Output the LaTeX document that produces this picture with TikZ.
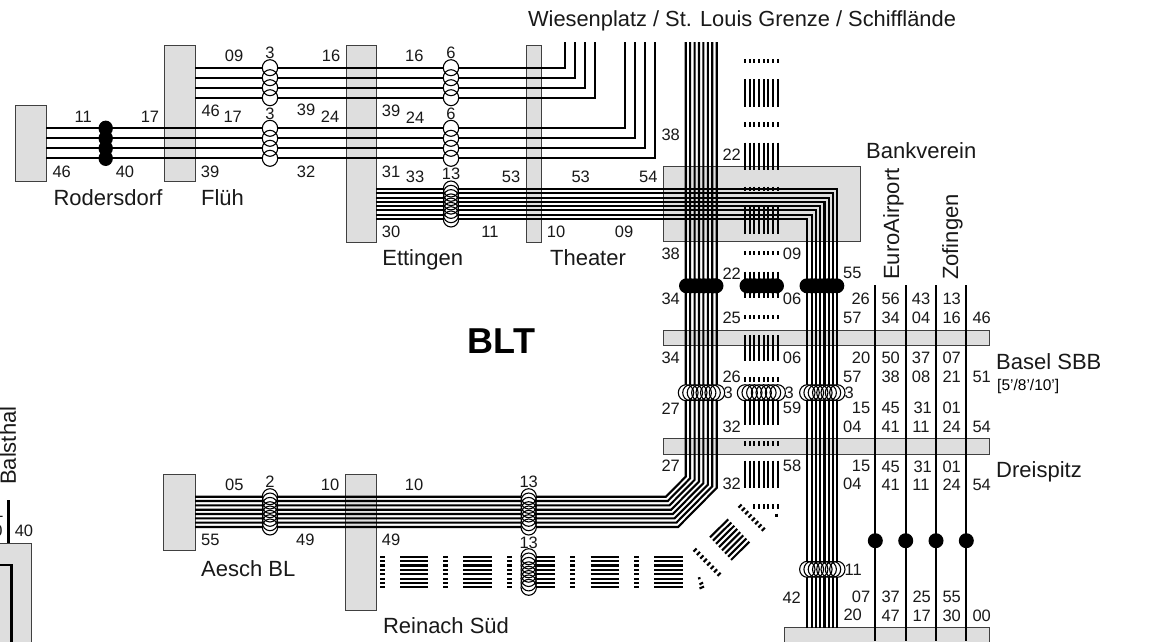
\documentclass[tikz,border=0pt]{standalone}
\usepackage{fontspec}
\setmainfont{Liberation Sans}
\definecolor{stationgray}{HTML}{DEDEDE}
\definecolor{stationedge}{HTML}{404040}
\begin{document}
\begin{tikzpicture}[x=1pt,y=-1pt,
  station/.style={draw=stationedge,fill=stationgray,line width=1pt,inner sep=0pt,outer sep=0pt,rectangle},
  trk/.style={line width=2.1pt,black},
  num/.style={inner sep=0pt,font=\fontsize{16.5}{16.5}\selectfont,text=black!90},
  stname/.style={inner sep=0pt,font=\fontsize{22}{23}\selectfont,text=black!90},
  ring/.style={line width=1.1pt,black},
  halo/.style={fill=white,draw=none},
  bead/.style={fill=black,draw=none}]
\useasboundingbox (0,0) rectangle (1161,641);
\fill[white] (0,0) rectangle (1161,641);
% stations
\node[station,minimum width=30.5pt,minimum height=75.5pt] (rodersdorf) at (30.75,143.25) {};
\node[station,minimum width=30.5pt,minimum height=136pt] (flueh) at (179.75,113) {};
\node[station,minimum width=30pt,minimum height=197pt] (ettingen) at (361,143.5) {};
\node[station,minimum width=14.6pt,minimum height=197pt] (theater) at (534,143.5) {};
\node[station,minimum width=197pt,minimum height=75.7pt] (bankverein) at (761.5,204) {};
\node[station,minimum width=326pt,minimum height=15pt] (sbb) at (826,337.5) {};
\node[station,minimum width=326pt,minimum height=15.7pt] (dreispitz) at (826,446.2) {};
\node[station,minimum width=32pt,minimum height=76pt] (aesch) at (179,512) {};
\node[station,minimum width=31pt,minimum height=136pt] (reinach) at (360.5,542) {};
\node[station,minimum width=205pt,minimum height=30pt] (terminal) at (886.5,642.7) {};
\node[station,minimum width=52pt,minimum height=120pt] (balsthalst) at (5.7,603) {};
% line 1: Flueh to Wiesenplatz
\foreach \y/\x in {67.7/565,77.7/575,87.7/585,97.7/595}
  \draw[trk] (flueh.east |- 0,\y) -- (\x,\y) -- (\x,42);
% line 2: Rodersdorf to Wiesenplatz
\foreach \y/\x in {128.3/625,138.3/635,148.3/645,158.3/655}
  \draw[trk] (rodersdorf.east |- 0,\y) -- (\x,\y) -- (\x,42);
% bundle: Ettingen - Bankverein - terminal
\foreach \i in {0,...,7}{
  \pgfmathsetmacro{\yy}{189+4.286*\i}
  \pgfmathsetmacro{\xx}{837.3-4.286*\i}
  \draw[trk] (ettingen.east |- 0,\yy) -- (\xx,\yy) -- (\xx,627.7);
}
% bundle: Wiesenplatz - Aesch
\foreach \i in {0,...,7}{
  \pgfmathsetmacro{\xx}{685.7+4.43*\i}
  \pgfmathsetmacro{\ya}{476.7+1.6*\i}
  \pgfmathsetmacro{\xb}{666+1.72*\i}
  \pgfmathsetmacro{\yb}{496.7+4.33*\i}
  \draw[trk] (\xx,42) -- (\xx,\ya) -- (\xb,\yb) -- (aesch.east |- 0,\yb);
}
% centre dashed bundle, vertical part
\foreach \a/\b in {59/63.3,79.3/106.7,122.3/126.7,142.7/170,186.7/191,206.7/234,251/255,271.7/298.3,315/319,335/360.7,377.3/381.7,398/425,441/445.7,460.7/487.7}{
  \foreach \i in {0,...,7}{
    \pgfmathsetmacro{\xx}{745+4.67*\i}
    \draw[trk] (\xx,\a) -- (\xx,\b);
  }
}
% centre bundle, the bend
\foreach \i in {2,...,7}{
  \pgfmathsetmacro{\xx}{745+4.67*\i}
  \draw[trk] (\xx,504) -- (\xx,508.5);
}
\draw[trk] (776.5,513.5) -- (776.5,516.5);
\foreach \i in {0,...,7}{
  \pgfmathsetmacro{\cx}{740+3.33*\i}
  \pgfmathsetmacro{\cy}{506+3.33*\i}
  \draw[trk] ({\cx-1.6},{\cy+1.6}) -- ({\cx+1.6},{\cy-1.6});
  \pgfmathsetmacro{\ax}{710+3*\i}
  \pgfmathsetmacro{\ay}{537.3+3.24*\i}
  \pgfmathsetmacro{\bx}{728.3+3*\i}
  \pgfmathsetmacro{\by}{519.3+3.2*\i}
  \draw[trk] (\ax,\ay) -- (\bx,\by);
  \pgfmathsetmacro{\dx}{695+3.43*\i}
  \pgfmathsetmacro{\dy}{550+3.47*\i}
  \draw[trk] ({\dx-1.6},{\dy+1.6}) -- ({\dx+1.6},{\dy-1.6});
}
\draw[trk] (698,578.5) -- (700.5,578);
\draw[trk] (699.5,584.5) -- (703,582.5);
\draw[trk] (699.5,588.5) -- (704,586.5);
% centre bundle, horizontal part
\foreach \a/\b in {380/385,400/428,443/448,463/492,507/512,523/555,570/575,590.7/619,634/638.7,654/682.7}{
  \foreach \j in {0,...,7}{
    \pgfmathsetmacro{\yy}{556.7+4.37*\j}
    \draw[trk] (\a,\yy) -- (\b,\yy);
  }
}
% four single lines on the right
\foreach \x [count=\n] in {875.3,905.7,936,966.3}{
  \coordinate (top\n) at (\x,285);
  \coordinate (bot\n) at (\x,641);
  \draw[trk] (top\n) -- (bot\n);
  \fill[bead] (\x,540.7) circle (7.5pt);
}
% Balsthal corner
\draw[trk] (8.5,500) -- (8.5,543);
\draw[trk] (-2,565) -- (11.5,565) -- (11.5,643);
% black beads
\foreach \y in {128.3,138.3,148.3,158.3}
  \fill[bead] (105.7,\y) ellipse [x radius=7.2pt,y radius=7.7pt];
\foreach \x in {686.5,691,695.5,700,704.5,709,713.5,716}
  \fill[bead] (\x,285.8) circle (7.5pt);
\foreach \x in {747,751,755,760,764,768,772,776.5}
  \fill[bead] (\x,285.8) circle (7.5pt);
\foreach \x in {807,811,815,820,824,828,832,836.8}
  \fill[bead] (\x,285.8) circle (7.5pt);
% open rings
\newcommand{\ringrow}[2]{%
  \foreach \p in {#2}{\fill[halo] (#1,\p) ellipse [x radius=7.7pt,y radius=8pt];}
  \foreach \p in {#2}{\draw[ring] (#1,\p) ellipse [x radius=7.7pt,y radius=8pt];}}
\newcommand{\ringcol}[2]{%
  \foreach \p in {#1}{\fill[halo] (\p,#2) ellipse [x radius=7.7pt,y radius=8pt];}
  \foreach \p in {#1}{\draw[ring] (\p,#2) ellipse [x radius=7.7pt,y radius=8pt];}}
\ringrow{270}{67.7,77.7,87.7,97.7}
\ringrow{270}{128.3,138.3,148.3,158.3}
\ringrow{451}{67.7,77.7,87.7,97.7}
\ringrow{451}{128.3,138.3,148.3,158.3}
\ringrow{451}{189,193.3,197.6,201.9,206.1,210.4,214.7,219}
\ringrow{270}{496.7,501,505.4,509.7,514,518.3,522.7,527}
\ringrow{528.7}{496.7,501,505.4,509.7,514,518.3,522.7,527}
\ringrow{528.7}{556.7,561,565.4,569.8,574.2,578.5,582.9,587.3}
\ringcol{686,690.4,694.9,699.3,703.7,708.2,712.6,717}{392.7}
\ringcol{745,749.7,754.3,759,763.7,768.4,773,777.7}{392.7}
\ringcol{807.3,811.6,815.9,820.2,824.4,828.7,833,837.3}{392.7}
\ringcol{807.3,811.6,815.9,820.2,824.4,828.7,833,837.3}{569.3}
% numbers
\foreach \x/\y/\t [count=\k] in {
 83.3/116.7/11,150/116.7/17,61.7/171.7/46,125/171.7/40,
 234/56/09,270/53/3,331/56/16,210.7/111/46,232.7/117.3/17,270/114/3,306/110/39,330/117/24,210/171.7/39,306/171.7/32,
 414.3/55.7/16,451/53/6,391/110.7/39,415/117.3/24,451/114/6,391/171.7/31,415/176.7/33,451/174.3/13,511/176.7/53,580.7/176.7/53,648.3/176.7/54,670.7/135/38,
 391/231.7/30,490/231.7/11,556/231.7/10,624/231.7/09,670.7/254/38,
 731.7/154.3/22,792/254/09,731.7/273.3/22,852.3/273.3/55,670.7/299.3/34,792/299.3/06,860.7/299.3/26,731.7/317.7/25,852.3/317.7/57,
 670.7/358.3/34,792/358.3/06,861/358.3/20,731.7/377.3/26,852.3/377.3/57,728.3/392.7/3,789.3/392.7/3,849.3/392.7/3,
 670.7/408.3/27,792/408.3/59,861/408.3/15,731.7/426.7/32,852.3/426.7/04,
 670.7/466/27,792/466/58,861/466/15,731.7/484.3/32,852.3/484.3/04,853.3/570/11,791.7/597.3/42,861/597.3/07,852.7/615.3/20,
 890.7/299.3/56,921/299.3/43,951.7/299.3/13,890.7/318/34,921/318/04,951.7/318/16,981.7/318/46,
 890.7/358.3/50,921/358.3/37,951.7/358.3/07,890.7/376.7/38,921/376.7/08,951.7/376.7/21,981.7/376.7/51,
 890.7/408.3/45,922.7/408.3/31,951.7/408.3/01,890.7/426.7/41,921/426.7/11,951.7/426.7/24,981.7/426.7/54,
 890.7/466.7/45,922.7/466.7/31,951.7/466.7/01,890.7/485/41,921/485/11,951.7/485/24,981.7/485/54,
 890.7/597.3/37,921.7/597.3/25,951.7/597.3/55,890.7/616/47,921.7/616/17,951.7/616/30,981.7/616/00,
 234.3/485/05,270/481.7/2,330/485/10,210.3/540/55,305.3/540/49,414/485/10,528.7/482.3/13,391/540/49,528.7/542.7/13,
 24/531/40,-1/512/1,-2/531/0}
  \node[num] (num\k) at (\x,\y) {\t};
% names
\node[stname,anchor=base] (lblrodersdorf) at (108,205.3) {Rodersdorf};
\node[stname,anchor=base] (lblflueh) at (222.5,205.3) {Flüh};
\node[stname,anchor=base] (lblettingen) at (422.7,265.2) {Ettingen};
\node[stname,anchor=base] (lbltheater) at (588,265.2) {Theater};
\node[stname,anchor=base west] (lblbank) at (866,158.5) {Bankverein};
\node[stname,anchor=base west] (lblsbb) at (996,369.3) {Basel SBB};
\node[inner sep=0pt,anchor=west,font=\fontsize{15.5}{15.5}\selectfont] (lblfreq) at (997,386) {[5'/8'/10']};
\node[stname,anchor=base west] (lbldrei) at (996,477) {Dreispitz};
\node[stname,anchor=base] (lblaesch) at (248.3,576.7) {Aesch BL};
\node[stname,anchor=base] (lblreinach) at (446,633.5) {Reinach Süd};
\node[stname,rotate=90,anchor=base west] (lbleuro) at (899,280) {EuroAirport};
\node[stname,rotate=90,anchor=base west] (lblzof) at (958,280) {Zofingen};
\node[stname,rotate=90,anchor=base west] (lblbal) at (16,485) {Balsthal};
\node[stname,anchor=base,font=\fontsize{21.85}{23}\selectfont] (lbltitle) at (742,26.5) {Wiesenplatz / St. Louis Grenze / Schifflände};
\node[inner sep=0pt,font=\fontsize{36}{36}\selectfont\bfseries] (lblblt) at (501.5,341) {BLT};
\end{tikzpicture}
\end{document}
